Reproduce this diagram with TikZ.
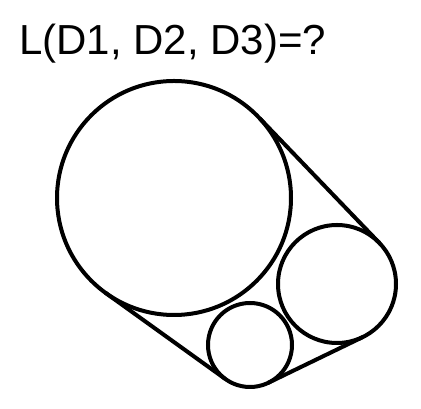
\documentclass[tikz,border=0pt]{standalone}
\usepackage{fontspec}
\setmainfont{Liberation Sans}
\begin{document}
\begin{tikzpicture}[x=1pt,y=1pt,
  disk/.style={circle,draw=black,line width=4pt,inner sep=0pt,outer sep=0pt},
  belt/.style={draw=black,line width=4pt}]
\useasboundingbox (0,0) rectangle (421,409);
\node[anchor=base west,inner sep=0pt,font=\fontsize{42}{48}\selectfont] (title) at (19,354) {L(D1, D2, D3)=?};
\node[disk,minimum size=234pt] (B) at (174,211) {};
\node[disk,minimum size=118pt] (M) at (337,125) {};
\node[disk,minimum size=84pt] (S) at (250,64) {};
\draw[belt] (B.43.84) -- (M.43.84);
\draw[belt] (M.-64.17) -- (S.-64.17);
\draw[belt] (S.234.29) -- (B.234.29);
\end{tikzpicture}
\end{document}
